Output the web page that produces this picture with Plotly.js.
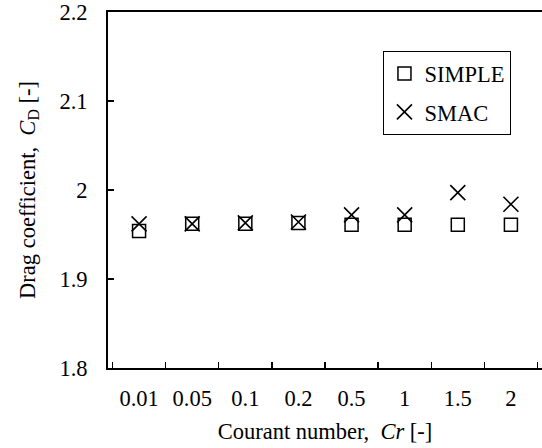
<!DOCTYPE html>
<html>
<head>
<meta charset="utf-8">
<script src="https://cdn.plot.ly/plotly-3.0.1.min.js"></script>
<style>html,body{margin:0;padding:0;background:#fff;}#chart{width:542px;height:448px;}</style>
</head>
<body>
<div id="chart"></div>
<script>
const courant = ['0.01', '0.05', '0.1', '0.2', '0.5', '1', '1.5', '2'];
const simpleCd = [1.954, 1.962, 1.962, 1.963, 1.961, 1.961, 1.961, 1.961];
const smacCd = [1.962, 1.962, 1.963, 1.964, 1.972, 1.972, 1.997, 1.984];
const yTicks = [1.8, 1.9, 2, 2.1, 2.2];
const yTickText = ['1.8', '1.9', '2', '2.1', '2.2'];

const FONT = '"Liberation Serif", "Times New Roman", serif';
const FS = 22.5;

const traces = [
  {
    x: courant, y: simpleCd, name: 'SIMPLE', type: 'scatter', mode: 'markers',
    legendgroup: 'a',
    marker: {symbol: 'square-open', size: 13, color: '#000', line: {width: 1.5, color: '#000'}}
  },
  {
    x: courant, y: smacCd, name: 'SMAC', type: 'scatter', mode: 'markers',
    legendgroup: 'b',
    marker: {symbol: 'x-thin-open', size: 15, color: '#000', line: {width: 1.6, color: '#000'}}
  }
];

const layout = {
  width: 542, height: 448,
  margin: {l: 108, r: 0, t: 12, b: 80},
  paper_bgcolor: '#fff', plot_bgcolor: '#fff',
  font: {family: FONT, size: FS, color: '#000'},
  showlegend: true,
  legend: {
    x: 0.634, y: 0.89, xanchor: 'left', yanchor: 'top',
    bgcolor: '#fff', bordercolor: '#000', borderwidth: 1.3,
    font: {family: FONT, size: FS, color: '#000'},
    traceorder: 'grouped', tracegroupgap: 6
  },
  xaxis: {
    type: 'category',
    showline: true, linecolor: '#000', linewidth: 2, mirror: true,
    showgrid: false, zeroline: false,
    ticks: 'inside', tickson: 'boundaries', ticklen: 6, tickwidth: 1.3, tickcolor: '#000',
    ticklabelstandoff: 9,
    title: {text: 'Courant number,  <i>Cr</i> [-]', font: {family: FONT, size: FS, color: '#000'}, standoff: 13},
    automargin: false, fixedrange: true
  },
  yaxis: {
    range: [1.8, 2.2],
    tickmode: 'array', tickvals: yTicks, ticktext: yTickText,
    ticklabeloverflow: 'allow',
    showline: true, linecolor: '#000', linewidth: 2, mirror: false,
    showgrid: false, zeroline: false,
    ticks: 'inside', ticklen: 6, tickwidth: 1.3, tickcolor: '#000',
    ticklabelstandoff: 14,
    title: {text: 'Drag coefficient,  <i>C</i><sub>D</sub> [-]', font: {family: FONT, size: FS, color: '#000'}, standoff: 18},
    automargin: false, fixedrange: true
  }
};

Plotly.newPlot('chart', traces, layout, {displayModeBar: false, staticPlot: true});
</script>
</body>
</html>
